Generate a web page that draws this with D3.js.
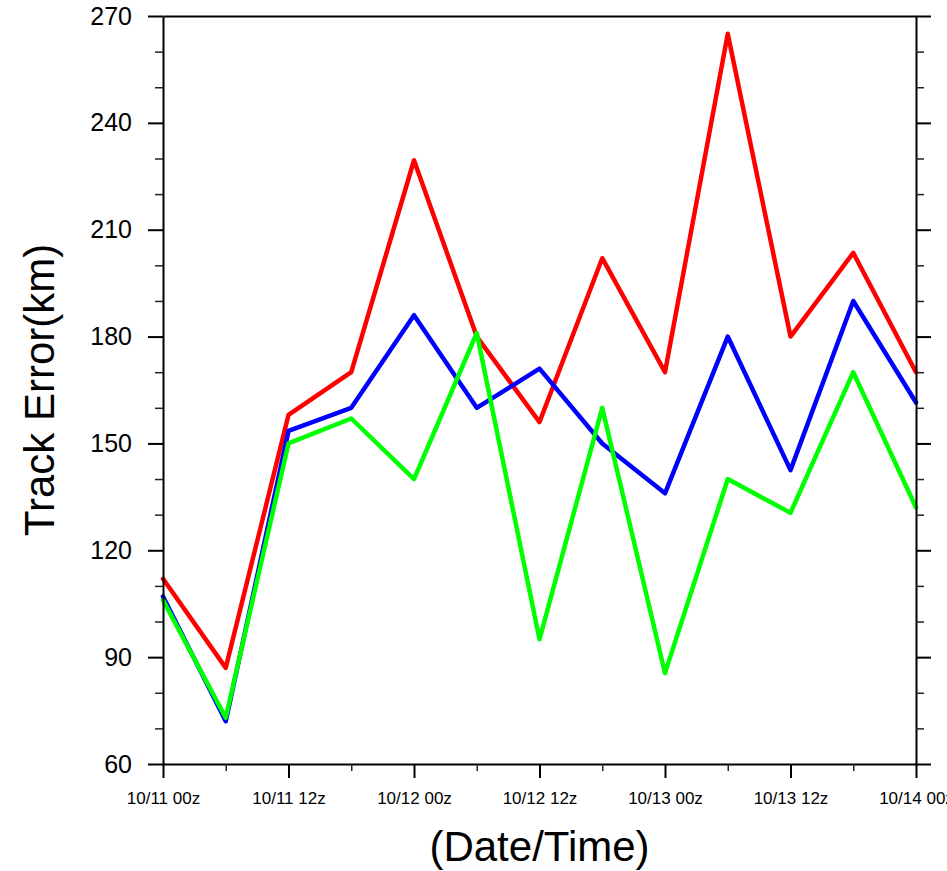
<!DOCTYPE html>
<html>
<head>
<meta charset="utf-8">
<script src="https://cdn.jsdelivr.net/npm/d3@7/dist/d3.min.js"></script>
<style>
  html, body { margin: 0; padding: 0; background: #fff; }
  svg { display: block; }
  text { font-family: "Liberation Sans", Arial, Helvetica, sans-serif; fill: #000; }
</style>
</head>
<body>
<svg id="chart" width="947" height="871"></svg>
<script>
// ---- data ----
const hours = [0, 6, 12, 18, 24, 30, 36, 42, 48, 54, 60, 66, 72];
const majorHours = [0, 12, 24, 36, 48, 60, 72];
const xTickLabels = ["10/11 00z", "10/11 12z", "10/12 00z", "10/12 12z", "10/13 00z", "10/13 12z", "10/14 00z"];
const yTicks = [60, 90, 120, 150, 180, 210, 240, 270];
const redSeries   = [112, 87, 158, 170, 229.5, 180, 156, 202, 170, 265, 180, 203.5, 170];
const blueSeries  = [107, 72, 153.5, 160, 186, 160, 171, 150, 136, 180, 142.5, 190, 161.5];
const greenSeries = [106, 73, 150, 157, 140, 181, 95, 160, 85.5, 140, 130.5, 170, 132];
const seriesColors = ["#ff0000", "#0000ff", "#00ff00"];

// ---- layout ----
const L = 163, R = 916, T = 16, B = 764;
const svg = d3.select("#chart");
const x = d3.scaleLinear().domain([0, 72]).range([L, R]);
const y = d3.scaleLinear().domain([60, 270]).range([B, T]);

const minorY = d3.range(60, 271, 10).filter(v => !yTicks.includes(v));
const minorX = hours.filter(h => !majorHours.includes(h));

// series lines
const line = d3.line().x((d, i) => x(hours[i])).y(d => y(d));
[redSeries, blueSeries, greenSeries].forEach((s, k) => {
  svg.append("path").datum(s)
    .attr("d", line)
    .attr("fill", "none")
    .attr("stroke", seriesColors[k])
    .attr("stroke-width", 4.5)
    .attr("stroke-linejoin", "round")
    .attr("stroke-linecap", "round");
});

// axes
function styleAxis(g) {
  g.select(".domain").attr("stroke", "#000").attr("stroke-width", 2);
  g.selectAll(".tick line").attr("stroke", "#000").attr("stroke-width", 2);
}

// left major
const gl = svg.append("g").attr("transform", `translate(${L},0)`)
  .call(d3.axisLeft(y).tickValues(yTicks).tickSize(15).tickSizeOuter(0).tickPadding(16).tickFormat(d3.format("d")));
styleAxis(gl);
gl.selectAll(".tick text").attr("font-size", 25).attr("font-family", "Liberation Sans, Arial, sans-serif").attr("fill", "#000");
// left minor
svg.append("g").attr("transform", `translate(${L},0)`)
  .call(d3.axisLeft(y).tickValues(minorY).tickSize(8).tickFormat(""))
  .call(g => { g.select(".domain").remove(); g.selectAll(".tick line").attr("stroke", "#222").attr("stroke-width", 1.5); });

// right major + minor
const gr = svg.append("g").attr("transform", `translate(${R},0)`)
  .call(d3.axisRight(y).tickValues(yTicks).tickSize(15).tickSizeOuter(0).tickFormat(""));
styleAxis(gr);
svg.append("g").attr("transform", `translate(${R},0)`)
  .call(d3.axisRight(y).tickValues(minorY).tickSize(8).tickFormat(""))
  .call(g => { g.select(".domain").remove(); g.selectAll(".tick line").attr("stroke", "#222").attr("stroke-width", 1.5); });

// bottom major
const gb = svg.append("g").attr("transform", `translate(0,${B})`)
  .call(d3.axisBottom(x).tickValues(majorHours).tickSize(14).tickSizeOuter(0).tickPadding(14)
    .tickFormat((d, i) => xTickLabels[i]));
styleAxis(gb);
gb.selectAll(".tick text").attr("font-size", 17).attr("font-family", "Liberation Sans, Arial, sans-serif").attr("fill", "#000");
// bottom minor
svg.append("g").attr("transform", `translate(0,${B})`)
  .call(d3.axisBottom(x).tickValues(minorX).tickSize(7).tickFormat(""))
  .call(g => { g.select(".domain").remove(); g.selectAll(".tick line").attr("stroke", "#222").attr("stroke-width", 1.5); });

// top line (no labels)
const gt = svg.append("g").attr("transform", `translate(0,${T})`)
  .call(d3.axisTop(x).tickValues([]).tickSizeOuter(0));
styleAxis(gt);

// axis titles
svg.append("text")
  .attr("transform", `translate(54,${(T + B) / 2}) rotate(-90)`)
  .attr("text-anchor", "middle")
  .attr("font-size", 42)
  .text("Track Error(km)");

svg.append("text")
  .attr("x", (L + R) / 2)
  .attr("y", 861)
  .attr("text-anchor", "middle")
  .attr("font-size", 42)
  .text("(Date/Time)");
</script>
</body>
</html>
